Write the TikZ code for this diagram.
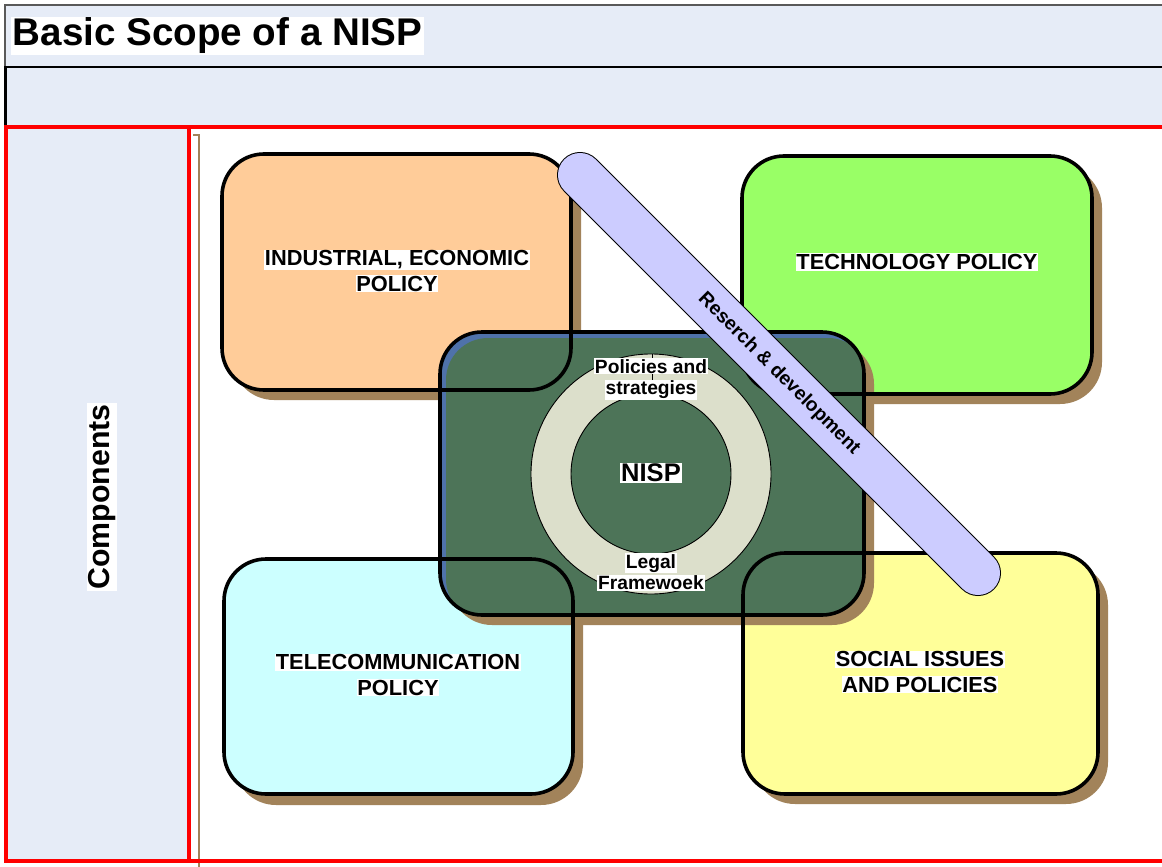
\documentclass[tikz,border=0pt]{standalone}
\usepackage{fontspec}
\setmainfont{Liberation Sans}
\definecolor{barblue}{HTML}{E6ECF7}
\definecolor{shadowbrown}{HTML}{A2835A}
\definecolor{orangefill}{HTML}{FFCC99}
\definecolor{techgreen}{HTML}{99FF66}
\definecolor{telecyan}{HTML}{CCFFFF}
\definecolor{socyellow}{HTML}{FFFF99}
\definecolor{nispgreen}{HTML}{4D7458}
\definecolor{nispblue}{HTML}{4F72AA}
\definecolor{ringgray}{HTML}{DCDFCB}
\definecolor{pilllilac}{HTML}{CCCCFF}
\definecolor{framered}{HTML}{FF0000}
\newcommand\wbg[1]{{\setlength\fboxsep{0.8pt}\colorbox{white}{#1}}}
\tikzset{
  boxshadow/.style={fill=shadowbrown, rounded corners=42pt},
  boxfill/.style={rounded corners=42pt},
  boxline/.style={draw=black, line width=3.6pt, rounded corners=42pt},
  boxlabel/.style={align=center, inner sep=0pt, font=\bfseries\fontsize{21.8}{25.8}\selectfont},
  ringlabel/.style={align=center, inner sep=0pt, font=\bfseries\fontsize{19.2}{21.5}\selectfont},
}
\begin{document}
\begin{tikzpicture}[x=1pt,y=-1pt]
\useasboundingbox (0,0) rectangle (1162,867);
\fill[white] (0,0) rectangle (1162,867);
% header bars
\fill[barblue] (5,5) rectangle (1170,66);
\draw[gray!70!black, line width=1.2pt] (5,66) -- (5,5) -- (1170,5);
\fill[barblue] (5,66) rectangle (1170,127);
\draw[black, line width=2.6pt] (5.5,127) -- (5.5,67) -- (1170,67);
\node[anchor=west, fill=white, inner sep=1.5pt, font=\bfseries\fontsize{38.6}{38.6}\selectfont] (title) at (11,36) {Basic Scope of a NISP};
% left column
\fill[barblue] (6,128) rectangle (189,861);
\draw[shadowbrown, line width=1.8pt] (193,135) -- (199,135) -- (199,870);
\draw[framered, line width=3.2pt] (1170,127) -- (6,127) -- (6,861) -- (1170,861);
\draw[framered, line width=3.2pt] (189,127) -- (189,861);
\node[rotate=90, fill=white, inner sep=1pt, font=\bfseries\fontsize{30.3}{30.3}\selectfont] (comp) at (102,497) {Components};
% corner boxes: shadows and fills
\fill[boxshadow] (232,164) rectangle (581,400);
\fill[boxfill, orangefill] (222,154) rectangle (571,390);
\fill[boxshadow] (752,166) rectangle (1102,404);
\fill[boxfill, techgreen] (742,156) rectangle (1092,394);
\fill[boxshadow] (234,569) rectangle (583,805);
\fill[boxfill, telecyan] (224,559) rectangle (573,794);
\fill[boxshadow] (753,563) rectangle (1108,804);
\fill[boxfill, socyellow] (743,553) rectangle (1098,794);
% central NISP box
\fill[boxshadow] (450,342) rectangle (874,625);
\fill[boxfill, nispblue] (440,332) rectangle (864,615);
\begin{scope}
  \clip[rounded corners=42pt] (440,332) rectangle (864,615);
  \fill[boxfill, nispgreen] (446,338) rectangle (870,621);
\end{scope}
% outlines
\draw[boxline] (222,154) rectangle (571,390);
\draw[boxline] (742,156) rectangle (1092,394);
\draw[boxline] (224,559) rectangle (573,794);
\draw[boxline] (743,553) rectangle (1098,794);
\draw[boxline] (440,332) rectangle (864,615);
% ring
\coordinate (ringc) at (651,474);
\fill[ringgray, draw=black, line width=0.9pt] (ringc) circle (120);
\fill[nispgreen, draw=black, line width=0.9pt] (ringc) circle (80);
\draw[black, line width=0.9pt] (652,354) -- (652,394);
% labels
\node[boxlabel] (ind) at (397,271) {\wbg{INDUSTRIAL, ECONOMIC}\\\wbg{POLICY}};
\node[boxlabel] (tech) at (917,262) {\wbg{TECHNOLOGY POLICY}};
\node[boxlabel] (tel) at (398,675) {\wbg{TELECOMMUNICATION}\\\wbg{POLICY}};
\node[boxlabel] (soc) at (920,672) {\wbg{SOCIAL ISSUES}\\\wbg{AND POLICIES}};
\node[ringlabel] (pol) at (651,379) {\wbg{Policies and}\\\wbg{strategies}};
\node[ringlabel] (leg) at (651,572) {\wbg{Legal}\\\wbg{Framewoek}};
\node[inner sep=0pt, font=\bfseries\fontsize{25.5}{25.5}\selectfont] (nisp) at (651,473) {\wbg{NISP}};
% research pill
\coordinate (rdA) at (580,175);
\coordinate (rdB) at (978,573);
\draw[black, line width=46pt, line cap=round] (rdA) -- (rdB);
\draw[pilllilac, line width=44pt, line cap=round] (rdA) -- (rdB);
\node[rotate=-45, inner sep=0pt, font=\bfseries\fontsize{19.3}{19.3}\selectfont] (rd) at (779,374) {Reserch \& development};
\end{tikzpicture}
\end{document}
